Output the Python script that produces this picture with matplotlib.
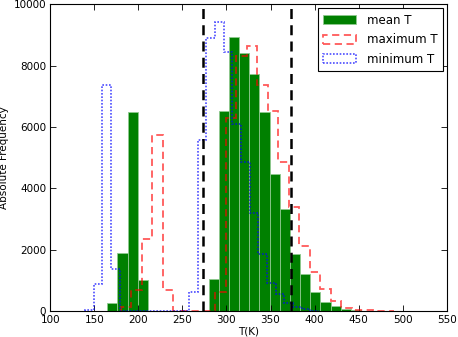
import numpy as np
import matplotlib
matplotlib.use("Agg")
import matplotlib.pyplot as plt

# mean T histogram
mean_start, mean_width = 164.7, 11.52
mean_counts = [260, 1890, 6500, 1020, 0, 0, 0, 0, 0, 0,
               1040, 6510, 8950, 8400, 7730, 6500, 4460, 3320, 1860, 1200,
               620, 290, 170, 75, 40, 20, 10]
# maximum T histogram
max_start, max_width = 179.9, 11.92
max_counts = [130, 690, 2365, 5730, 690, 0, 0, 0, 0, 620,
              6300, 8330, 8650, 7370, 6540, 4870, 3400, 2140, 1290, 740,
              320, 100, 40, 30, 10, 5]
# minimum T histogram
min_start, min_width = 139.4, 9.84
min_counts = [40, 880, 7360, 1370, 0, 0, 0, 0, 0, 0, 0, 0,
              640, 5590, 8890, 9430, 8460, 6100, 4850, 3200, 1855, 930,
              550, 280, 150, 60, 20]

freeze_T, boil_T = 273.15, 373.15
xticks = [100, 150, 200, 250, 300, 350, 400, 450, 500, 550]
yticks = [0, 2000, 4000, 6000, 8000, 10000]


def edges(start, width, counts):
    return start + width * np.arange(len(counts) + 1)


fig = plt.figure(figsize=(4.58, 3.37), dpi=100)
ax = fig.add_axes([0.1098, 0.0763, 0.8655, 0.911])

e = edges(mean_start, mean_width, mean_counts)
ax.hist(e[:-1], bins=e, weights=mean_counts, histtype='bar', rwidth=1.0,
        color='#008000', edgecolor='#8fc98f', linewidth=0.6, label='mean T')

e = edges(max_start, max_width, max_counts)
ax.hist(e[:-1], bins=e, weights=max_counts, histtype='step', color='red',
        alpha=0.65, linewidth=1.3, linestyle=(0, (4, 2.5)), label='maximum T')

e = edges(min_start, min_width, min_counts)
ax.hist(e[:-1], bins=e, weights=min_counts, histtype='step', color='blue',
        alpha=0.7, linewidth=1.2, linestyle=(0, (1, 1)), label='minimum T')

ax.axvline(freeze_T, color='black', linestyle=(0, (4, 2.5)), linewidth=1.8)
ax.axvline(boil_T, color='black', linestyle=(0, (4, 2.5)), linewidth=1.8)

ax.set_xlim(100, 550)
ax.set_ylim(0, 10000)
ax.set_xticks(xticks)
ax.set_yticks(yticks)
ax.tick_params(direction='in', top=True, right=True, labelsize=7.5,
               length=4, width=0.6, pad=3)
for s in ax.spines.values():
    s.set_linewidth(0.8)
ax.set_xlabel('T(K)', fontsize=7.5, labelpad=1)
ax.set_ylabel('Absolute Frequency', fontsize=7.5, labelpad=3)

leg = ax.legend(loc='upper right', fontsize=8.5, fancybox=False,
                framealpha=1, edgecolor='black', borderaxespad=0.35,
                handlelength=2.8, handleheight=0.8, labelspacing=0.55,
                borderpad=0.45, handletextpad=0.9)
leg.get_frame().set_linewidth(0.8)

fig.savefig('out.png', dpi=100)
